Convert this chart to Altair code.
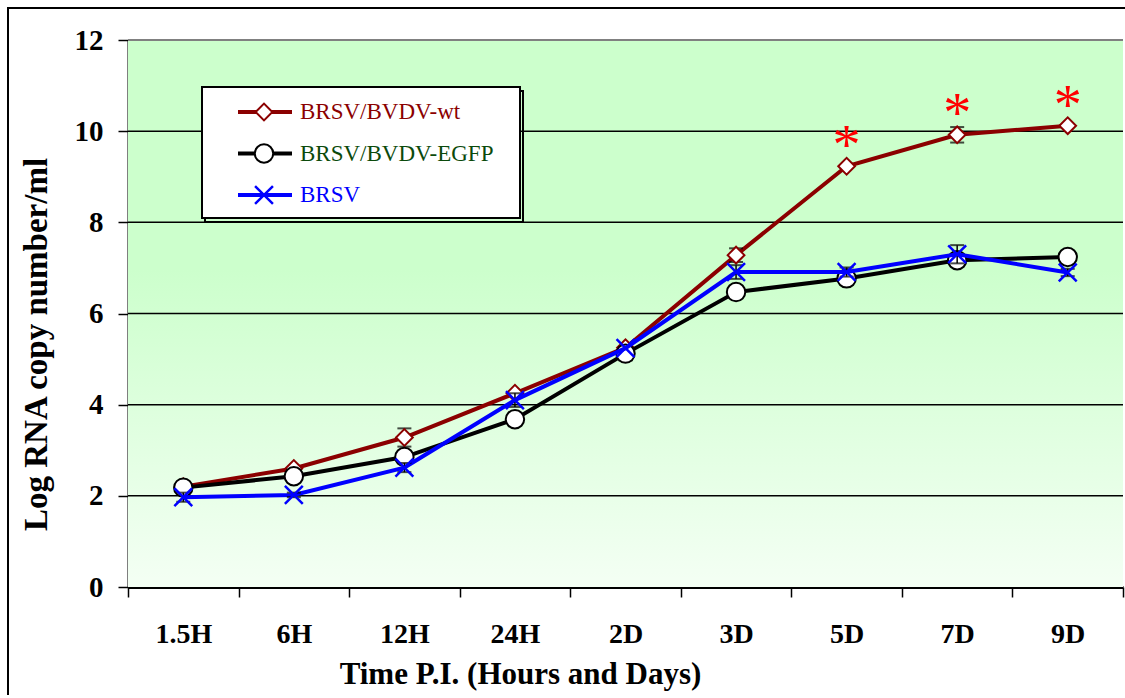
import altair as alt
import pandas as pd

categories = ["1.5H", "6H", "12H", "24H", "2D", "3D", "5D", "7D", "9D"]
wt_vals = [2.20, 2.60, 3.28, 4.25, 5.25, 7.28, 9.23, 9.92, 10.12]
egfp_vals = [2.18, 2.43, 2.85, 3.68, 5.12, 6.47, 6.77, 7.17, 7.24]
brsv_vals = [1.97, 2.02, 2.62, 4.10, 5.24, 6.91, 6.91, 7.30, 6.90]
wt_err = [0, 0, 0.20, 0, 0, 0.15, 0, 0.17, 0]
egfp_err = [0, 0, 0, 0, 0.15, 0, 0, 0, 0]
brsv_err = [0.10, 0.05, 0.10, 0.15, 0, 0.15, 0.10, 0.20, 0.08]
series_names = ["BRSV/BVDV-wt", "BRSV/BVDV-EGFP", "BRSV"]
star_cats = ["5D", "7D", "9D"]
star_y = [9.87, 10.57, 10.75]
grid_vals = [2, 4, 6, 8, 10]

W, H = 995, 547
FONT = "Liberation Serif"

xscale = alt.Scale(type="band", domain=categories, paddingInner=0, paddingOuter=0)
yscale = alt.Scale(domain=[0, 12], nice=False)
xaxis = alt.Axis(
    tickBand="extent", tickSize=10, tickWidth=1.5, tickColor="black",
    domainColor="black", domainWidth=3, labelAngle=0,
    labelFont=FONT, labelFontSize=28, labelFontWeight="bold", labelColor="black",
    labelPadding=23, grid=False,
    title="Time P.I. (Hours and Days)", titleFont=FONT, titleFontSize=31,
    titleFontWeight="bold", titleColor="black", titleX=392, titleY=96,
    titleAlign="center", titleAnchor="start", titleBaseline="alphabetic",
)
yaxis = alt.Axis(
    values=[0, 2, 4, 6, 8, 10, 12], tickSize=10, tickWidth=1.5, tickColor="black",
    domainColor="black", domainWidth=2, grid=False,
    labelFont=FONT, labelFontSize=29, labelFontWeight="bold", labelColor="black",
    labelPadding=15,
    title="Log RNA copy number/ml", titleFont=FONT, titleFontSize=33,
    titleFontWeight="bold", titleColor="black", titleAngle=270,
    titleX=-82, titleY=304, titleAlign="center", titleAnchor="start",
    titleBaseline="alphabetic",
)
X = alt.X("cat:N", sort=categories, scale=xscale, axis=xaxis)
Y = alt.Y("val:Q", scale=yscale, axis=yaxis)


def sdf(vals, errs, name):
    return pd.DataFrame({"cat": categories, "val": vals, "err": errs, "series": name})


colors = ["#8B0000", "black", "#0000FF"]
text_colors = ["#8B0000", "#0B4A0B", "#0000FF"]
xpath = "M-1,-1L1,1M-1,1L1,-1"
point_props = [
    dict(shape="diamond", size=280, fill="white", stroke="#8B0000", strokeWidth=2, filled=True, opacity=1),
    dict(shape="circle", size=340, fill="white", stroke="black", strokeWidth=2, filled=True, opacity=1),
    dict(shape=xpath, size=320, stroke="#0000FF", strokeWidth=2.5, filled=False, opacity=1),
]

dummy = alt.Data(values=[{"a": 1}])

frame = alt.Chart(dummy).mark_rect(fill="transparent", stroke="black", strokeWidth=2).encode(
    x=alt.value(-120), x2=alt.value(W + 60), y=alt.value(-32), y2=alt.value(H + 200)
)

bg = alt.Chart(dummy).mark_rect(
    color=alt.Gradient(
        gradient="linear",
        stops=[
            alt.GradientStop(color="#ccffcc", offset=0),
            alt.GradientStop(color="#ccffcc", offset=0.42),
            alt.GradientStop(color="#f4fff4", offset=1),
        ],
        x1=0, x2=0, y1=0, y2=1,
    )
).encode(x=alt.value(0), x2=alt.value(W), y=alt.value(0), y2=alt.value(H))

grid = alt.Chart(pd.DataFrame({"val": grid_vals})).mark_rule(color="black", strokeWidth=1.5).encode(y=Y)
topline = alt.Chart(pd.DataFrame({"val": [12]})).mark_rule(color="#808080", strokeWidth=2).encode(y=Y)

layers = [frame, bg, grid, topline]

data_sets = [
    sdf(wt_vals, wt_err, series_names[0]),
    sdf(egfp_vals, egfp_err, series_names[1]),
    sdf(brsv_vals, brsv_err, series_names[2]),
]

for i, d in enumerate(data_sets):
    base = alt.Chart(d)
    line = base.mark_line(color=colors[i], strokeWidth=4).encode(x=X, y=Y)
    eb = base.transform_filter("datum.err > 0").transform_calculate(
        lo="datum.val - datum.err", hi="datum.val + datum.err"
    )
    rule = eb.mark_rule(color="black", strokeWidth=1.5).encode(
        x=X, y=alt.Y("lo:Q", scale=yscale, axis=yaxis), y2="hi:Q"
    )
    cap_lo = eb.mark_tick(color="black", thickness=2, size=14).encode(
        x=X, y=alt.Y("lo:Q", scale=yscale, axis=yaxis)
    )
    cap_hi = eb.mark_tick(color="black", thickness=2, size=14).encode(
        x=X, y=alt.Y("hi:Q", scale=yscale, axis=yaxis)
    )
    pts = base.mark_point(**point_props[i]).encode(x=X, y=Y)
    layers += [line, rule, cap_lo, cap_hi, pts]

stars = alt.Chart(pd.DataFrame({"cat": star_cats, "val": star_y, "t": ["*"] * 3})).mark_text(
    font=FONT, fontSize=56, color="#FF0000", baseline="alphabetic", align="center", dy=27
).encode(x=X, y=Y, text="t:N")
layers.append(stars)

# legend box
LX0, LY0, LX1, LY1 = 74, 47, 392, 178
shadow = alt.Chart(dummy).mark_rect(fill="transparent", stroke="black", strokeWidth=2).encode(
    x=alt.value(LX0 + 3), x2=alt.value(LX1 + 3), y=alt.value(LY0 + 4), y2=alt.value(LY1 + 4)
)
box = alt.Chart(dummy).mark_rect(fill="white", stroke="black", strokeWidth=2).encode(
    x=alt.value(LX0), x2=alt.value(LX1), y=alt.value(LY0), y2=alt.value(LY1)
)
layers += [shadow, box]
for i, name in enumerate(series_names):
    ry = 72 + 41.5 * i
    lg = alt.Chart(alt.Data(values=[{"name": name}]))
    layers.append(
        lg.mark_rule(color=colors[i], strokeWidth=4).encode(
            x=alt.value(110), x2=alt.value(164), y=alt.value(ry)
        )
    )
    pp = dict(point_props[i])
    layers.append(lg.mark_point(**pp).encode(x=alt.value(136), y=alt.value(ry)))
    layers.append(
        lg.mark_text(font=FONT, fontSize=23, color=text_colors[i], align="left", baseline="middle").encode(
            x=alt.value(172), y=alt.value(ry), text="name:N"
        )
    )

chart = (
    alt.layer(*layers)
    .properties(
        width=W, height=H,
        autosize=alt.AutoSizeParams(type="none"),
        padding={"left": 128, "top": 40, "right": 2, "bottom": 108},
        background="white",
    )
    .configure_view(strokeWidth=0)
)

chart.save("out.html", embed_options={"renderer": "svg", "actions": False})
